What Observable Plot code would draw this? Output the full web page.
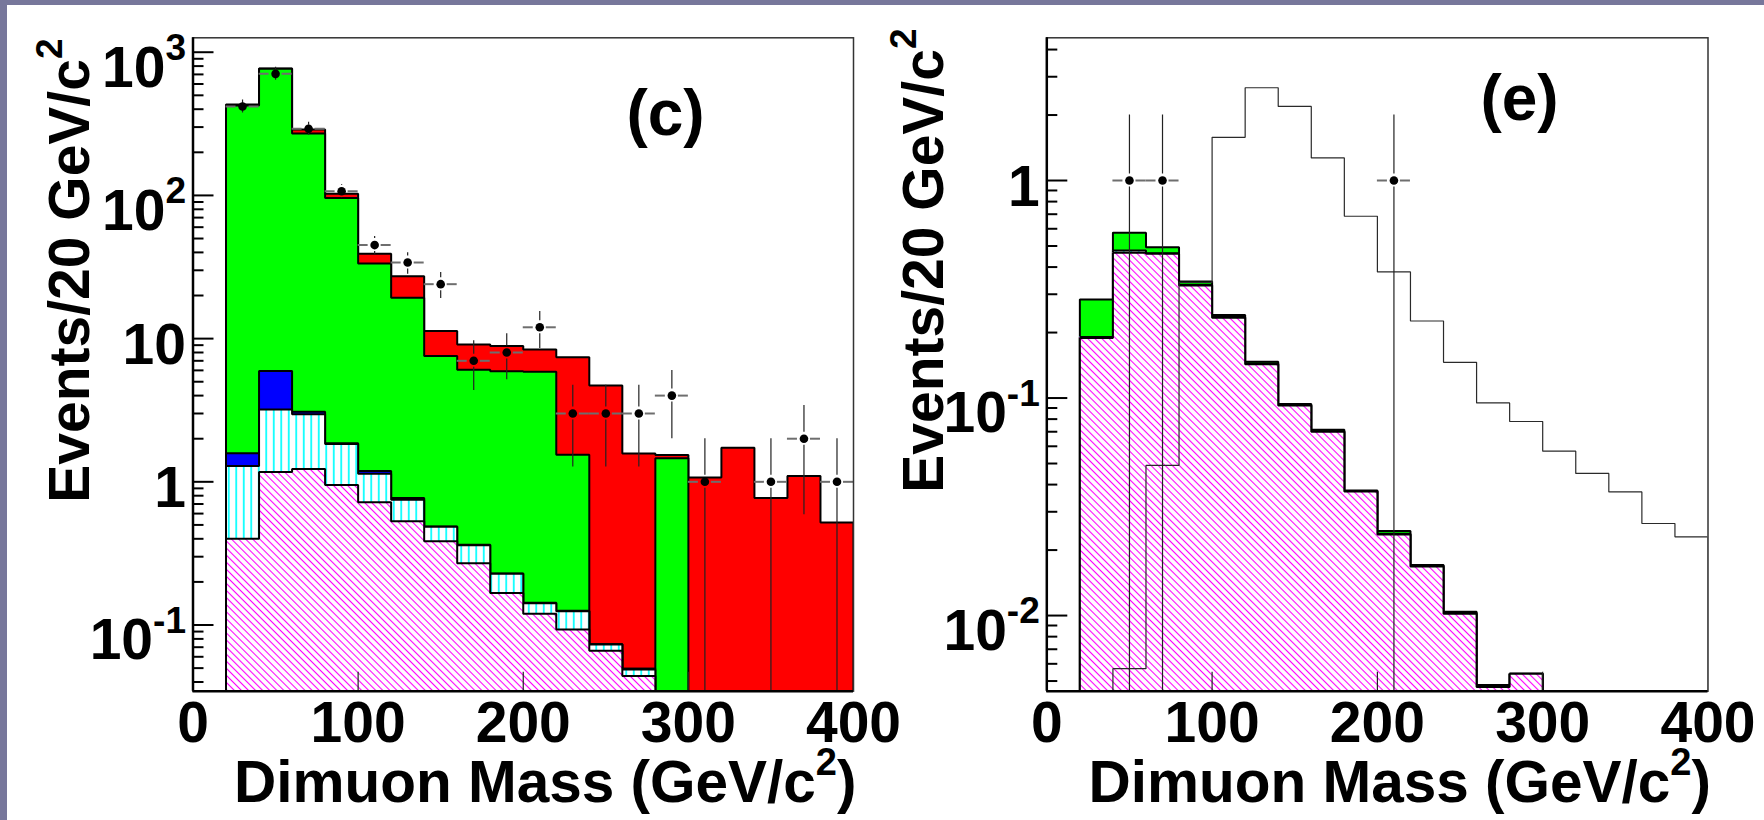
<!DOCTYPE html>
<html><head><meta charset="utf-8">
<script src="https://cdn.jsdelivr.net/npm/d3@7"></script>
<script src="https://cdn.jsdelivr.net/npm/@observablehq/plot@0.6"></script>
<style>
html,body{margin:0;padding:0;background:#fff;}
#page{position:relative;width:1764px;height:820px;background:#fff;overflow:hidden;}
#bt{position:absolute;left:0;top:0;width:1764px;height:5px;background:#77779b;}
#bl{position:absolute;left:0;top:0;width:7px;height:820px;background:#77779b;}
#pc{position:absolute;left:0;top:0;width:900px;height:820px;}
#pe{position:absolute;left:880px;top:0;width:884px;height:820px;}
</style></head><body>
<div id="page">
<svg width="0" height="0" style="position:absolute">
  <defs>
    <pattern id="hMag" patternUnits="userSpaceOnUse" width="5" height="5" patternTransform="rotate(-45)">
      <rect width="5" height="5" fill="white"/>
      <line x1="2.5" y1="-1" x2="2.5" y2="6" stroke="#ff00ff" stroke-width="1.1"/>
    </pattern>
    <pattern id="hCyan" patternUnits="userSpaceOnUse" width="7.5" height="10">
      <rect width="7.5" height="10" fill="white"/>
      <line x1="3.75" y1="-1" x2="3.75" y2="11" stroke="#00ffff" stroke-width="1.7"/>
    </pattern>
  </defs>
</svg>
<div id="pc"></div><div id="pe"></div><div id="bt"></div><div id="bl"></div>
</div>
<script>
// ---------- bins (GeV/c^2) ----------
const binLo = [20,40,60,80,100,120,140,160,180,200,220,240,260,280,300,320,340,360,380];
const binHi = [40,60,80,100,120,140,160,180,200,220,240,260,280,300,320,340,360,380,400];
const xTicks = [0,100,200,300,400];

// ---------- panel (c): stacked backgrounds, bottom -> top ----------
const cMagenta = [0.40,1.17,1.23,0.95,0.72,0.53,0.385,0.27,0.167,0.12,0.093,0.066,0.044,0,0,0,0,0,0];
const cCyan    = [0.89,2.03,1.73,0.89,0.42,0.22,0.10,0.091,0.061,0.022,0.032,0.007,0.005,0,0,0,0,0,0];
const cBlue    = [0.29,2.73,0.12,0.02,0.05,0.02,0.003,0.002,0.001,0.001,0.001,0.0005,0.0005,0,0,0,0,0,0];
const cGreen   = [423,760,268,94,32.3,18.5,7.06,5.69,5.70,5.72,1.42,0,0,1.46,0,0,0,0,0];
const cRed     = [7,5,18,7,5.6,8.0,3.75,3.05,2.94,2.54,5.88,4.64,1.53,0.08,1.07,1.73,0.77,1.10,0.52];
const cDataX   = [30,50,70,90,110,130,150,170,190,210,230,250,270,290,310,350,370,390];
const cDataN   = [418,706,292,107,45,34,24,7,8,12,3,3,3,4,1,1,2,1];
const cDataErr = [20.4,26.6,17.1,10.3,6.7,5.8,4.9,2.65,2.83,3.46,1.73,1.73,1.73,2.0,1.0,1.0,1.41,1.0];
const cYTicks  = [0.1,1,10,100,1000];
const cYLabels = ["10^{-1}","1","10","10^{2}","10^{3}"];

// ---------- panel (e) ----------
const eBinLo   = [20,40,60,80,100,120,140,160,180,200,220,240,260,280];
const eBinHi   = [40,60,80,100,120,140,160,180,200,220,240,260,280,300];
const eMagenta = [0.189,0.465,0.46,0.329,0.234,0.143,0.0924,0.070,0.0372,0.0236,0.0168,0.0102,0.0047,0.0054];
const eCyan    = [0.002,0.012,0.003,0.003,0.002,0.001,0.0005,0.0004,0.0002,0.0002,0.0002,0.0001,0.0001,0];
const eGreen   = [0.093,0.098,0.031,0.011,0.005,0.003,0.0011,0.0010,0.0002,0.0007,0.0001,0.0001,0,0];
const eSignal  = [0,0.0057,0.049,0.34,1.58,2.67,2.19,1.27,0.685,0.38,0.226,0.146,0.095,0.078,0.057,0.045,0.037,0.0265,0.023];
const eDataX   = [50,70,210];
const eDataN   = [1,1,1];
const eDataErr = [1,1,1];
const eYTicks  = [0.01,0.1,1];
const eYLabels = ["10^{-2}","10^{-1}","1"];

const FONT = "'Liberation Sans', Arial, Helvetica, sans-serif";

function stepPts(lo, hi, v, floor) {
  const pts = [{x: lo[0], y: floor}];
  v.forEach((d, i) => { const y = d > 0 ? d : floor; pts.push({x: lo[i], y}, {x: hi[i], y}); });
  pts.push({x: hi[hi.length - 1], y: floor});
  return pts;
}
function minorTicks(lo, hi) {
  const out = [];
  for (let e = Math.floor(Math.log10(lo)); e <= Math.ceil(Math.log10(hi)); e++)
    for (let m = 2; m <= 9; m++) { const v = m * Math.pow(10, e); if (v > lo && v < hi) out.push(v); }
  return out;
}

function panel(o) {
  const H = 820;
  const [yb, yt] = o.yDomain;
  const fw = o.width - o.ml - o.mr, fh = H - o.mt - o.mb;
  const ppd = fh / (Math.log10(yt) - Math.log10(yb));
  const floor = yb * 0.5;
  const marks = [];
  // cumulative stack
  const cums = []; let acc = o.layers[0].values.map(() => 0);
  o.layers.forEach(L => { acc = acc.map((a, i) => a + L.values[i]); cums.push(acc.slice()); });
  for (let k = o.layers.length - 1; k >= 0; k--) {
    const cum = cums[k];
    const idx = cum.map((_, i) => i).filter(i => cum[i] > 0);
    marks.push(Plot.rect(idx, {x1: i => o.lo[i], x2: i => o.hi[i], y1: floor, y2: i => cum[i],
      fill: o.layers[k].fill, clip: true, shapeRendering: "crispEdges"}));
    marks.push(Plot.line(stepPts(o.lo, o.hi, cum, floor), {x: "x", y: "y", stroke: "black",
      strokeWidth: 2, clip: true, strokeLinejoin: "miter"}));
  }
  if (o.signal) {
    marks.push(Plot.line(stepPts(binLo, binHi, o.signal, floor), {x: "x", y: "y", stroke: "#2a2a2a",
      strokeWidth: 1.2, clip: true, strokeLinejoin: "miter"}));
  }
  // data points with error bars (gap around marker)
  const data = o.dataX.map((x, i) => ({x, n: o.dataN[i], e: o.dataErr[i]}));
  const gap = 6.5;
  const gf = Math.pow(10, gap / ppd);
  const gx = gap / (fw / 400);
  const hw = (binHi[0] - binLo[0]) / 2;
  marks.push(Plot.ruleY(data, {y: "n", x1: d => d.x - hw, x2: d => d.x - gx, stroke: "#6e6e6e", strokeWidth: 2, clip: true}));
  marks.push(Plot.ruleY(data, {y: "n", x1: d => d.x + gx, x2: d => d.x + hw, stroke: "#6e6e6e", strokeWidth: 2, clip: true}));
  marks.push(Plot.ruleX(data, {x: "x", y1: d => d.n + d.e, y2: d => d.n * gf, stroke: "#222", strokeWidth: 1.2, clip: true}));
  marks.push(Plot.ruleX(data, {x: "x", y1: d => d.n / gf, y2: d => Math.max(d.n - d.e, floor), stroke: "#222", strokeWidth: 1.2, clip: true}));
  marks.push(Plot.dot(data, {x: "x", y: "n", r: 4.3, fill: "black", stroke: "none"}));
  // inward ticks
  marks.push(Plot.ruleY(minorTicks(yb, yt), {y: d => d, insetRight: fw - 11, stroke: "black", strokeWidth: 2}));
  marks.push(Plot.ruleY(o.yTicks, {y: d => d, insetRight: fw - 21, stroke: "black", strokeWidth: 2}));
  marks.push(Plot.ruleX(xTicks.slice(1, -1), {x: d => d, insetTop: fh - 19, stroke: "#222", strokeWidth: 1.2}));
  // frame
  marks.push(Plot.frame({stroke: "#333", strokeWidth: 1.5}));
  marks.push(Plot.ruleX([0], {x: d => d, stroke: "black", strokeWidth: 2.5}));
  marks.push(Plot.ruleY([yb], {y: d => d, stroke: "black", strokeWidth: 2.5}));
  // axes
  marks.push(Plot.axisY(o.yTicks, {tickFormat: d => o.yLabels[o.yTicks.indexOf(d)], tickSize: 0,
    tickPadding: 7, dy: 7, label: null, fontSize: 57}));
  marks.push(Plot.axisX(xTicks, {tickSize: 0, tickPadding: 10, label: null, fontSize: 57}));
  // titles
  marks.push(Plot.text(["Dimuon Mass (GeV/c^{2})"], {text: d => d, frameAnchor: "bottom-right",
    textAnchor: "end", lineAnchor: "bottom", dx: 3, dy: 111, fontSize: 58.5}));
  marks.push(Plot.text(["Events/20 GeV/c^{2}"], {text: d => d, frameAnchor: "top-left", rotate: -90,
    textAnchor: "end", lineAnchor: "bottom", dx: o.ytDx, dy: o.ytDy, fontSize: 57}));
  marks.push(Plot.text([o.tag], {text: d => d, frameAnchor: "top-left", textAnchor: "middle",
    lineAnchor: "bottom", dx: o.tagDx, dy: o.tagDy, fontSize: 64}));

  const svg = Plot.plot({
    width: o.width, height: H,
    marginLeft: o.ml, marginRight: o.mr, marginTop: o.mt, marginBottom: o.mb,
    x: {domain: [0, 400], label: null},
    y: {type: "log", domain: [yb, yt], label: null},
    style: {background: "none", overflow: "visible", maxWidth: "none", fontFamily: FONT,
      fontWeight: "bold", fontSize: "57px", color: "black"},
    marks
  });
  applySup(svg);
  return svg;
}

function applySup(svg) {
  svg.querySelectorAll("text").forEach(t => {
    const s = t.textContent;
    if (!s.includes("^{")) return;
    const parts = s.split(/\^\{([^}]*)\}/);
    const g = t.closest("g[aria-label]");
    const isTick = g && /tick label/.test(g.getAttribute("aria-label") || "");
    while (t.firstChild) t.removeChild(t.firstChild);
    const NS = "http://www.w3.org/2000/svg";
    const first = document.createElementNS(NS, "tspan");
    first.textContent = parts[0];
    if (isTick) first.setAttribute("dy", "0.16em");
    t.appendChild(first);
    for (let k = 1; k < parts.length; k += 2) {
      const sup = document.createElementNS(NS, "tspan");
      sup.textContent = parts[k];
      sup.setAttribute("font-size", "65%");
      sup.setAttribute("dy", "-0.72em");
      t.appendChild(sup);
      if (parts[k + 1]) {
        const rest = document.createElementNS(NS, "tspan");
        rest.textContent = parts[k + 1];
        rest.setAttribute("dy", "0.468em");
        t.appendChild(rest);
      }
    }
  });
}

const svgC = panel({
  width: 900, ml: 192.5, mr: 47, mt: 37.3, mb: 129.3,
  yDomain: [0.0345, 1261],
  lo: binLo, hi: binHi,
  layers: [
    {values: cMagenta, fill: "url(#hMag)"},
    {values: cCyan, fill: "url(#hCyan)"},
    {values: cBlue, fill: "#0000ff"},
    {values: cGreen, fill: "#00ff00"},
    {values: cRed, fill: "#ff0000"}
  ],
  dataX: cDataX, dataN: cDataN, dataErr: cDataErr,
  yTicks: cYTicks, yLabels: cYLabels,
  ytDx: -104.5, ytDy: 0.7, tag: "(c)", tagDx: 472.5, tagDy: 97.2
});
document.getElementById("pc").appendChild(svgC);

const svgE = panel({
  width: 884, ml: 166.3, mr: 56.5, mt: 37.3, mb: 129.3,
  yDomain: [0.00449, 4.53],
  lo: eBinLo, hi: eBinHi,
  layers: [
    {values: eMagenta, fill: "url(#hMag)"},
    {values: eCyan, fill: "url(#hCyan)"},
    {values: eGreen, fill: "#00ff00"}
  ],
  signal: eSignal,
  dataX: eDataX, dataN: eDataN, dataErr: eDataErr,
  yTicks: eYTicks, yLabels: eYLabels,
  ytDx: -104.3, ytDy: -9.3, tag: "(e)", tagDx: 472.7, tagDy: 82.2
});
document.getElementById("pe").appendChild(svgE);
</script>
</body></html>
